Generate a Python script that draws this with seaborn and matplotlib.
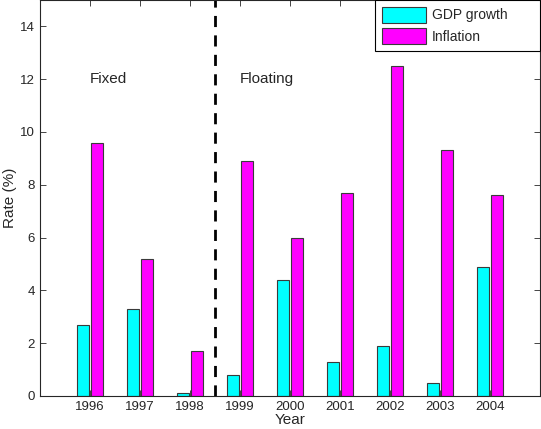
import pandas as pd
import matplotlib
matplotlib.use("Agg")
import matplotlib.pyplot as plt
import seaborn as sns

# values
years = ["1996", "1997", "1998", "1999", "2000", "2001", "2002", "2003", "2004"]
gdp_growth = [2.7, 3.3, 0.1, 0.8, 4.4, 1.3, 1.9, 0.5, 4.9]
inflation = [9.6, 5.2, 1.7, 8.9, 6.0, 7.7, 12.5, 9.3, 7.6]

df = pd.DataFrame({
    "Year": years * 2,
    "Rate": gdp_growth + inflation,
    "Series": ["GDP growth"] * len(years) + ["Inflation"] * len(years),
})

sns.set_style("ticks")
plt.rcParams["font.family"] = ["Liberation Sans", "DejaVu Sans"]

fig = plt.figure(figsize=(5.41, 4.29), dpi=100)
ax = fig.add_axes([40 / 541, 33 / 429, 500 / 541, 396 / 429])

sns.barplot(data=df, x="Year", y="Rate", hue="Series",
            palette={"GDP growth": "#00ffff", "Inflation": "#ff00ff"},
            width=0.55, gap=0.15, edgecolor="#3a3a3a", linewidth=0.8,
            saturation=1, ax=ax)

ax.axvline(2.5, color="black", linestyle=(0, (4, 3)), linewidth=2)
ax.text(0, 12, "Fixed", fontsize=11, va="center")
ax.text(3, 12, "Floating", fontsize=11, va="center")

ax.set_xlim(-1, 9)
ax.set_ylim(0, 15)
ax.set_yticks(range(0, 15, 2))
ax.set_xlabel("Year", fontsize=11, labelpad=0)
ax.set_ylabel("Rate (%)", fontsize=11, labelpad=2)
ax.tick_params(direction="in", top=True, right=True, labelsize=9.5, length=4, width=0.6)
for s in ax.spines.values():
    s.set_visible(True)
    s.set_linewidth(0.8)

leg = ax.legend(loc="upper right", bbox_to_anchor=(0.67, 0.0, 0.33, 1.0), mode="expand",
                fontsize=10, fancybox=False, framealpha=1,
                edgecolor="black", borderaxespad=0, handlelength=3.2, handleheight=1.35,
                labelspacing=0.4, borderpad=0.5, handletextpad=0.4)
leg.get_frame().set_linewidth(0.8)

fig.savefig("out.png", dpi=100)
